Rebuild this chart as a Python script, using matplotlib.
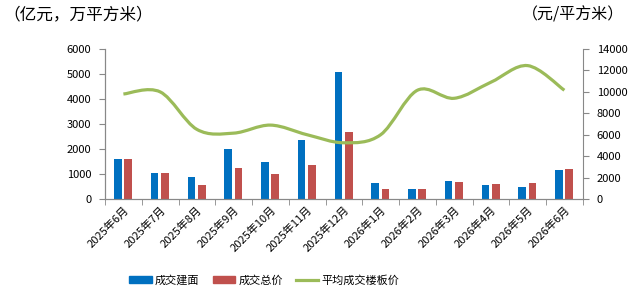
import matplotlib.pyplot as plt
import numpy as np
from matplotlib.path import Path
from matplotlib.patches import PathPatch
from matplotlib.lines import Line2D
from matplotlib.patches import Patch

plt.rcParams['font.family'] = ['Noto Sans CJK SC', 'DejaVu Sans']

months = ["2025年6月", "2025年7月", "2025年8月", "2025年9月", "2025年10月", "2025年11月",
          "2025年12月", "2026年1月", "2026年2月", "2026年3月", "2026年4月", "2026年5月", "2026年6月"]
area = [1600, 1050, 890, 2010, 1490, 2370, 5090, 650, 410, 730, 570, 490, 1170]
total = [1600, 1050, 570, 1250, 1010, 1370, 2690, 410, 410, 690, 610, 650, 1210]
price = [9800, 10000, 6500, 6150, 6900, 6000, 5250, 6000, 10150, 9400, 10900, 12450, 10150]

blue = "#0070C0"
red = "#C0504D"
green = "#9BBB59"
gray = "#888888"

fig = plt.figure(figsize=(6.3, 2.98), dpi=100)
ax = fig.add_axes([0.1667, 0.332, 0.7583, 0.5036])
ax2 = ax.twinx()

x = np.arange(len(months))
ax.bar(x - 0.15, area, width=0.21, color=blue, zorder=2)
ax.bar(x + 0.13, total, width=0.21, color=red, zorder=2)

# smoothed line like excel: bezier segments through the points
px = x.astype(float)
py = np.array(price, dtype=float)
verts = [(px[0], py[0])]
codes = [Path.MOVETO]
t = 1 / 6
for i in range(len(px) - 1):
    p0 = (px[max(i - 1, 0)], py[max(i - 1, 0)])
    p1 = (px[i], py[i])
    p2 = (px[i + 1], py[i + 1])
    p3 = (px[min(i + 2, len(px) - 1)], py[min(i + 2, len(px) - 1)])
    c1 = (p1[0] + (p2[0] - p0[0]) * t, p1[1] + (p2[1] - p0[1]) * t)
    c2 = (p2[0] - (p3[0] - p1[0]) * t, p2[1] - (p3[1] - p1[1]) * t)
    verts += [c1, c2, p2]
    codes += [Path.CURVE4] * 3
ax2.add_patch(PathPatch(Path(verts, codes), facecolor="none", edgecolor=green, lw=2.3,
                        transform=ax2.transData, zorder=3))

ax.set_xlim(-0.5, len(months) - 0.5)
ax.set_ylim(0, 6000)
ax2.set_ylim(0, 14000)
ax.set_yticks(range(0, 6001, 1000))
ax2.set_yticks(range(0, 14001, 2000))

ax.set_xticks(x)
ax.set_xticklabels(months, rotation=45, ha="right", rotation_mode="anchor", fontsize=8)
ax.set_xticks(np.arange(-0.5, len(months), 1), minor=True)
ax.tick_params(axis="x", which="major", length=0, pad=4)
ax.tick_params(axis="x", which="minor", length=4, color=gray)
ax.tick_params(axis="y", labelsize=8, length=4, color=gray, pad=6)
ax2.tick_params(axis="y", labelsize=8, length=4, color=gray, pad=6)

for a in (ax, ax2):
    a.spines["top"].set_visible(False)
    for s in ("left", "right", "bottom"):
        a.spines[s].set_color(gray)
ax.spines["right"].set_visible(False)

fig.text(0.005, 0.95, "（亿元，万平方米）", fontsize=12, va="center", ha="left")
fig.text(0.99, 0.95, "（元/平方米）", fontsize=11.5, va="center", ha="right")

handles = [Patch(color=blue), Patch(color=red), Line2D([], [], color=green, lw=2.3)]
fig.legend(handles, ["成交建面", "成交总价", "平均成交楼板价"], loc="center",
           bbox_to_anchor=(0.42, 0.06), ncol=3, frameon=False, fontsize=8,
           handlelength=2.0, handleheight=0.6, columnspacing=1.2, handletextpad=0.3)

fig.savefig("out.png", dpi=100)
